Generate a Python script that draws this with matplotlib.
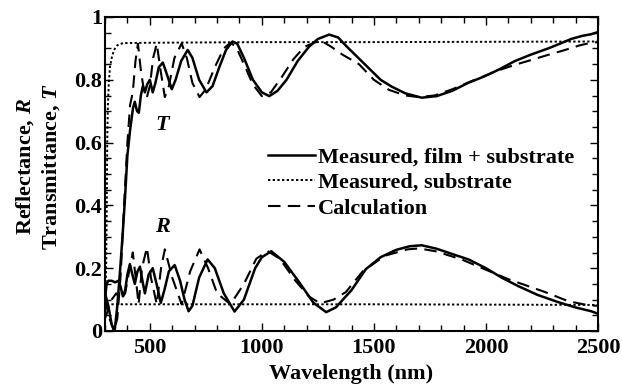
import matplotlib
matplotlib.use("Agg")
import matplotlib.pyplot as plt
import matplotlib.ticker as plticker

plt.rcParams["font.family"] = "Liberation Serif"
plt.rcParams["font.weight"] = "bold"
plt.rcParams["axes.labelweight"] = "bold"
plt.rcParams["mathtext.fontset"] = "custom"
plt.rcParams["mathtext.rm"] = "Liberation Serif:bold"
plt.rcParams["mathtext.it"] = "Liberation Serif:bold:italic"

# transmittance, film + substrate (measured)
t_meas_wl = [300, 315, 330, 343, 355, 368, 378, 389, 400, 412, 425, 433, 443, 451, 460, 469,
             478, 488, 500, 513, 525, 540, 558, 575, 598, 615, 640, 669, 690, 720, 753, 780,
             810, 840, 869, 890, 920, 960, 1000, 1033, 1070, 1110, 1160, 1210, 1250, 1300,
             1340, 1380, 1430, 1480, 1530, 1580, 1640, 1713, 1780, 1850, 1920, 1990, 2056,
             2130, 2200, 2278, 2330, 2380, 2430, 2469, 2500]
t_meas = [0.12, 0.08, 0.02, 0.0, 0.08, 0.2, 0.3, 0.42, 0.56, 0.64, 0.71, 0.73, 0.70, 0.695, 0.75, 0.78,
          0.76, 0.785, 0.80, 0.76, 0.79, 0.84, 0.855, 0.82, 0.77, 0.80, 0.86, 0.895, 0.87, 0.80, 0.76, 0.78,
          0.84, 0.895, 0.922, 0.915, 0.87, 0.80, 0.76, 0.748, 0.765, 0.80, 0.86, 0.905, 0.93, 0.944,
          0.935, 0.905, 0.87, 0.835, 0.80, 0.778, 0.757, 0.743, 0.748, 0.765, 0.79, 0.81, 0.832,
          0.86, 0.88, 0.90, 0.915, 0.93, 0.94, 0.945, 0.952]

# transmittance, substrate only
t_sub_wl = [300, 305, 308, 310, 313, 317, 322, 330, 340, 355, 380, 500, 1000, 1500, 2000, 2500]
t_sub = [0.05, 0.2, 0.4, 0.6, 0.72, 0.79, 0.84, 0.87, 0.895, 0.91, 0.917, 0.918, 0.92, 0.92, 0.921, 0.922]

# transmittance, calculation
t_calc_wl = [300, 320, 340, 355, 370, 385, 400, 412, 424, 436, 447, 460, 475, 487, 500, 515, 531,
             548, 567, 585, 610, 642, 665, 690, 722, 750, 790, 830, 860, 885, 920, 960, 1000,
             1040, 1090, 1140, 1190, 1240, 1270, 1310, 1360, 1433, 1500, 1567, 1640, 1700,
             1770, 1850, 1950, 2056, 2130, 2202, 2280, 2353, 2420, 2469, 2500]
t_calc = [0.1, 0.04, 0.0, 0.04, 0.18, 0.4, 0.6, 0.72, 0.76, 0.86, 0.915, 0.83, 0.76, 0.745, 0.78, 0.87, 0.915,
          0.83, 0.745, 0.78, 0.87, 0.916, 0.87, 0.79, 0.745, 0.77, 0.84, 0.90, 0.918, 0.905, 0.85, 0.785, 0.748,
          0.76, 0.81, 0.865, 0.905, 0.92, 0.922, 0.905, 0.88, 0.85, 0.80, 0.768, 0.75, 0.745,
          0.75, 0.77, 0.80, 0.83, 0.848, 0.863, 0.88, 0.895, 0.91, 0.918, 0.92]

# reflectance, film + substrate (measured)
r_meas_wl = [300, 307, 315, 330, 345, 360, 370, 380, 390, 400, 411, 422, 433, 445, 456, 467, 478,
             495, 513, 530, 549, 565, 585, 611, 635, 655, 673, 690, 720, 758, 790, 830, 878,
             920, 970, 1000, 1042, 1100, 1167, 1230, 1287, 1330, 1400, 1464, 1530, 1598, 1660,
             1713, 1780, 1850, 1922, 2000, 2070, 2144, 2230, 2322, 2400, 2469, 2500]
r_meas = [0.1, 0.15, 0.16, 0.16, 0.155, 0.16, 0.14, 0.11, 0.13, 0.18, 0.213, 0.18, 0.15, 0.19, 0.205, 0.16, 0.12,
          0.18, 0.2, 0.15, 0.09, 0.13, 0.19, 0.21, 0.16, 0.10, 0.063, 0.08, 0.17, 0.228, 0.2, 0.12, 0.062,
          0.1, 0.2, 0.235, 0.254, 0.22, 0.155, 0.09, 0.06, 0.075, 0.13, 0.197, 0.235, 0.258, 0.27,
          0.273, 0.262, 0.245, 0.228, 0.2, 0.17, 0.143, 0.115, 0.092, 0.075, 0.063, 0.055]

# reflectance, substrate only
r_sub_wl = [300, 310, 500, 1000, 1500, 2000, 2500]
r_sub = [0.07, 0.085, 0.085, 0.085, 0.085, 0.084, 0.083]

# reflectance, calculation
r_calc_wl = [300, 330, 350, 370, 390, 410, 424, 440, 450, 465, 487, 505, 531, 550, 567, 600, 642,
             680, 722, 760, 800, 860, 920, 975, 1025, 1080, 1150, 1210, 1260, 1320, 1375, 1450,
             1550, 1650, 1700, 1775, 1891, 2000, 2100, 2200, 2264, 2367, 2456, 2500]
r_calc = [0.04, 0.1, 0.12, 0.1, 0.12, 0.2, 0.25, 0.15, 0.085, 0.2, 0.266, 0.17, 0.085, 0.2, 0.26, 0.17, 0.085,
          0.19, 0.26, 0.2, 0.12, 0.085, 0.15, 0.23, 0.255, 0.23, 0.16, 0.11, 0.088, 0.1, 0.124, 0.19,
          0.24, 0.26, 0.263, 0.254, 0.228, 0.195, 0.165, 0.14, 0.124, 0.095, 0.082, 0.08]

fig = plt.figure(figsize=(6.22, 3.88), dpi=100)
ax = fig.add_axes([105 / 622, 1 - 331 / 388, 493 / 622, 314 / 388])

ax.plot(t_meas_wl, t_meas, color="black", lw=1.8, label="Measured, film + substrate")
ax.plot(t_sub_wl, t_sub, color="black", lw=1.4, ls=(0, (1.2, 1.2)), label="Measured, substrate")
ax.plot(t_calc_wl, t_calc, color="black", lw=1.5, ls=(0, (6, 3.5)), label="Calculation")
ax.plot(r_meas_wl, r_meas, color="black", lw=1.8)
ax.plot(r_sub_wl, r_sub, color="black", lw=1.4, ls=(0, (1.2, 1.2)))
ax.plot(r_calc_wl, r_calc, color="black", lw=1.5, ls=(0, (6, 3.5)))

ax.set_xlim(300, 2500)
ax.set_ylim(0, 1)
ax.xaxis.set_major_locator(plticker.MultipleLocator(500))
ax.xaxis.set_minor_locator(plticker.MultipleLocator(100))
ax.yaxis.set_major_locator(plticker.MultipleLocator(0.2))
ax.yaxis.set_minor_locator(plticker.MultipleLocator(0.05))
ax.yaxis.set_major_formatter(plticker.FuncFormatter(lambda v, p: "%g" % round(v, 1)))
ax.tick_params(which="both", direction="in", top=True, right=True, labelsize=16, width=1.0)
ax.tick_params(which="major", length=6)
ax.tick_params(axis="x", which="major", pad=5)
ax.tick_params(axis="y", which="major", pad=2)
ax.tick_params(which="minor", length=4)
for s in ax.spines.values():
    s.set_linewidth(1.5)

ax.set_xlabel("Wavelength (nm)", fontsize=16, labelpad=4)
ax.set_ylabel("Reflectance, $R$\nTransmittance, $T$", fontsize=16, linespacing=1.25)
ax.yaxis.set_label_coords(-0.087, 0.525)

ax.text(558, 0.655, "$T$", fontsize=16, ha="center", va="center")
ax.text(558, 0.33, "$R$", fontsize=16, ha="center", va="center")

ax.legend(loc="center left", bbox_to_anchor=(0.331, 0.472), frameon=False, fontsize=16,
          handlelength=2.1, handletextpad=0.15, labelspacing=0.23, borderpad=0, borderaxespad=0)

fig.savefig("out.png", dpi=100)
